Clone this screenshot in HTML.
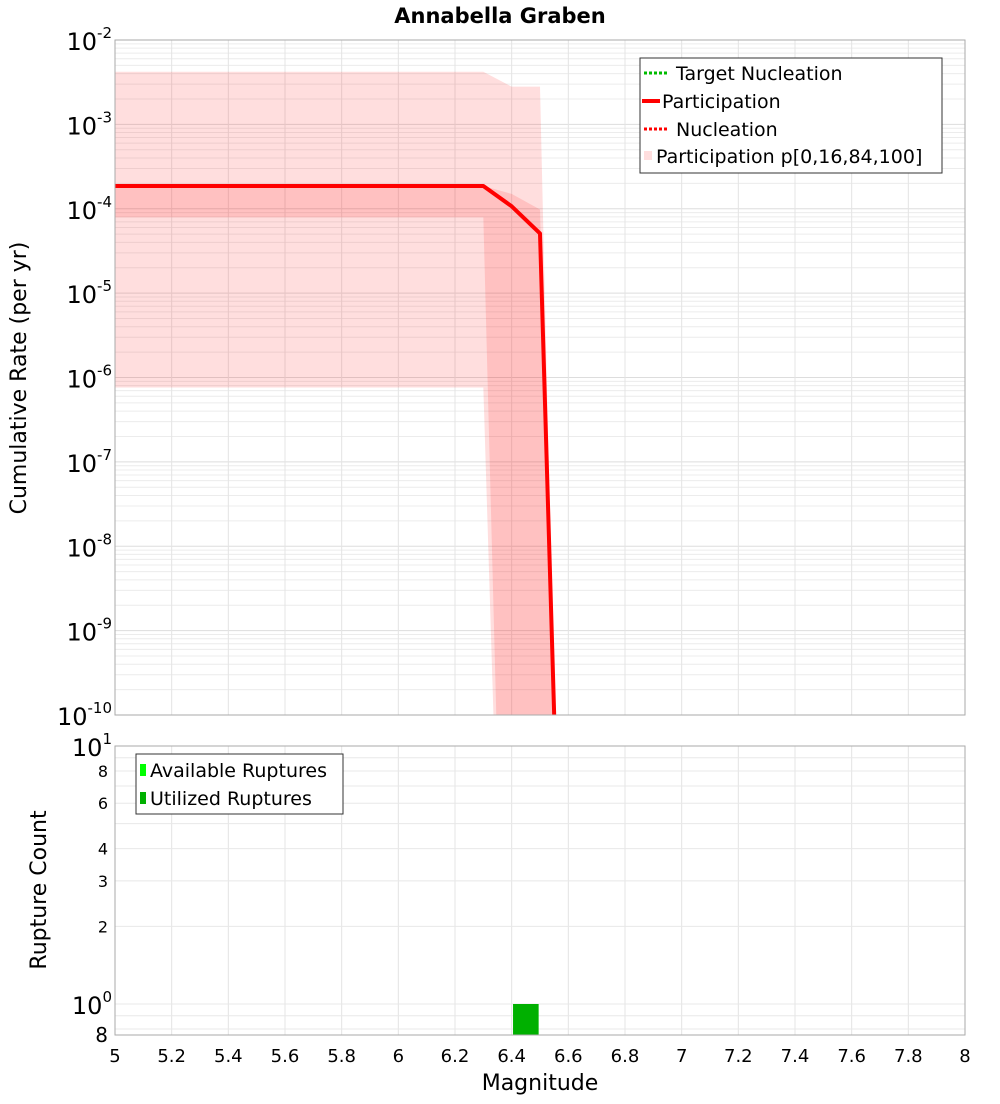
<!DOCTYPE html>
<html><head><meta charset="utf-8"><style>
body{margin:0;background:#fff;font-family:"DejaVu Sans","Liberation Sans",sans-serif}
svg text{font-family:"DejaVu Sans","Liberation Sans",sans-serif}
</style></head><body>
<svg id="c" width="1000" height="1100" xmlns="http://www.w3.org/2000/svg">
<text x="500" y="23" text-anchor="middle" font-size="21" font-weight="bold">Annabella Graben</text>
<g id="top"></g><g id="bot"></g>
<text transform="translate(26,378) rotate(-90)" text-anchor="middle" font-size="22">Cumulative Rate (per yr)</text>
<text transform="translate(46,890) rotate(-90)" text-anchor="middle" font-size="22">Rupture Count</text>
<text x="540" y="1090" text-anchor="middle" font-size="22">Magnitude</text>
</svg>
<script>
const mags=[5.0,6.3,6.4,6.5,6.6];
const participation=[1.86e-4,1.86e-4,1.07e-4,5.1e-5,2e-16];
const p0=[7.6e-7,7.6e-7,1e-17,1e-17,1e-30];
const p16=[7.9e-5,7.9e-5,1e-17,1e-17,1e-30];
const p84=[1.86e-4,1.86e-4,1.5e-4,9.8e-5,1e-17];
const p100=[4.2e-3,4.2e-3,2.8e-3,2.8e-3,1e-17];
const barMags=[6.45];
const availableCounts=[1];
const utilizedCounts=[1];
const xTicks=[5,5.2,5.4,5.6,5.8,6,6.2,6.4,6.6,6.8,7,7.2,7.4,7.6,7.8,8];
const yExps=[-2,-3,-4,-5,-6,-7,-8,-9,-10];
const NS="http://www.w3.org/2000/svg";
const X0=115,X1=965,T0=40,T1=715,B0=746,B1=1035;
const xs=m=>X0+(m-5)/3*(X1-X0);
const clampT=v=>Math.max(-30,Math.log10(v));
const yt=v=>T0+(-2-clampT(v))*(T1-T0)/8;
const BD=258;
const yb=v=>B0+(1-Math.log10(v))*BD;
function mk(p,tag,a){const e=document.createElementNS(NS,tag);for(const k in a)e.setAttribute(k,a[k]);p.appendChild(e);return e;}
const gTop=document.getElementById('top'),gBot=document.getElementById('bot');
const defs=mk(gTop,'defs',{});
const cp=mk(defs,'clipPath',{id:'ct'});mk(cp,'rect',{x:X0,y:T0,width:X1-X0,height:T1-T0});
const cp2=mk(defs,'clipPath',{id:'cb'});mk(cp2,'rect',{x:X0,y:B0,width:X1-X0,height:B1-B0});
for(let e=-10;e<-2;e++)for(let k=1;k<10;k++){const y=yt(k*Math.pow(10,e));
 const l=mk(gTop,'line',{x1:X0,x2:X1,y1:y,y2:y,stroke:k==1?'#ddd':'#ececec','stroke-width':1});
 
 }
xTicks.forEach(t=>{const x=xs(t);
 const l=mk(gTop,'line',{x1:x,x2:x,y1:T0,y2:T1,stroke:'#e4e4e4'});
 
 
 const l2=mk(gBot,'line',{x1:x,x2:x,y1:B0,y2:B1,stroke:'#e4e4e4'});
 
 
 const tx=mk(gBot,'text',{x:x,y:1062,'text-anchor':'middle','font-size':18});tx.textContent=String(t);
 
 });
const gt=mk(gTop,'g',{'clip-path':'url(#ct)'});
function band(lo,hi,name){let d='';mags.forEach((m,i)=>{d+=(i?'L':'M')+xs(m)+','+yt(hi[i]);});
 for(let i=mags.length-1;i>=0;i--)d+='L'+xs(mags[i])+','+yt(lo[i]);
 const p=mk(gt,'path',{d:d+'Z',fill:'#ff0000','fill-opacity':0.13});
 
 }
band(p0,p100,'band-p0-p100');band(p16,p84,'band-p16-p84');
const pl=mk(gt,'polyline',{points:mags.map((m,i)=>xs(m)+','+yt(participation[i])).join(' '),fill:'none',stroke:'#ff0000','stroke-width':4,'stroke-linejoin':'round'});


const nl=mk(gt,'polyline',{points:mags.map((m,i)=>xs(m)+','+yt(participation[i])).join(' '),fill:'none',stroke:'#ff0000','stroke-width':3,'stroke-dasharray':'2,2'});


mk(gTop,'rect',{x:X0,y:T0,width:X1-X0,height:T1-T0,fill:'none',stroke:'#aaa'});
yExps.forEach(e=>{const y=yt(Math.pow(10,e));const t=mk(gTop,'text',{x:112,y:y+10,'text-anchor':'end','font-size':24});
 t.innerHTML='10<tspan dy="-12" font-size="15">'+e+'</tspan>';
 
 });
const lg=mk(gTop,'g',{});


mk(lg,'rect',{x:640,y:58,width:302,height:115,fill:'#fff',stroke:'#333'});
mk(lg,'line',{x1:644,x2:668,y1:73,y2:73,stroke:'#00bb00','stroke-width':3,'stroke-dasharray':'3,2'});
mk(lg,'line',{x1:642,x2:660,y1:101,y2:101,stroke:'#ff0000','stroke-width':4});
mk(lg,'line',{x1:644,x2:668,y1:129,y2:129,stroke:'#ff0000','stroke-width':3,'stroke-dasharray':'3,2'});
mk(lg,'rect',{x:644,y:151,width:8,height:9,fill:'#ffdede'});
[['Target Nucleation',676,80],['Participation',662,108],['Nucleation',676,136],['Participation p[0,16,84,100]',656,163]].forEach(a=>{
 const t=mk(lg,'text',{x:a[1],y:a[2],'font-size':19});t.textContent=a[0];
 
 });
for(let e=-1;e<1;e++)for(let k=1;k<10;k++){const v=k*Math.pow(10,e);if(v<0.77)continue;const y=yb(v);
 const l=mk(gBot,'line',{x1:X0,x2:X1,y1:y,y2:y,stroke:'#e8e8e8'});
 
 }
const gb=mk(gBot,'g',{'clip-path':'url(#cb)'});
barMags.forEach((m,i)=>{
 const a=mk(gb,'rect',{x:xs(m-0.045),y:yb(availableCounts[i]),width:xs(m+0.045)-xs(m-0.045),height:B1-yb(availableCounts[i]),fill:'#00ff00'});
 
 
 const u=mk(gb,'rect',{x:xs(m-0.045),y:yb(utilizedCounts[i]),width:xs(m+0.045)-xs(m-0.045),height:B1-yb(utilizedCounts[i]),fill:'#00b000'});
 
 });
mk(gBot,'rect',{x:X0,y:B0,width:X1-X0,height:B1-B0,fill:'none',stroke:'#aaa'});
[[10,'10','1'],[1,'10','0']].forEach(a=>{const y=yb(a[0]);const t=mk(gBot,'text',{x:112,y:y+10,'text-anchor':'end','font-size':24});
 t.innerHTML=a[1]+'<tspan dy="-12" font-size="15">'+a[2]+'</tspan>';
 
 });
[8,6,4,3,2].forEach(v=>{const t=mk(gBot,'text',{x:108,y:yb(v)+6,'text-anchor':'end','font-size':16});t.textContent=v;
 
 });
{const t=mk(gBot,'text',{x:108,y:1042,'text-anchor':'end','font-size':20});t.textContent='8';
 
 }
const lb=mk(gBot,'g',{});


mk(lb,'rect',{x:136,y:754,width:207,height:60,fill:'#fff',stroke:'#333'});
mk(lb,'rect',{x:140,y:764,width:6,height:12,fill:'#00ff00'});
mk(lb,'rect',{x:140,y:792,width:6,height:12,fill:'#00b000'});
[['Available Ruptures',777],['Utilized Ruptures',805]].forEach(a=>{const t=mk(lb,'text',{x:150,y:a[1],'font-size':19});t.textContent=a[0];
 
 });
</script>
</body></html>
